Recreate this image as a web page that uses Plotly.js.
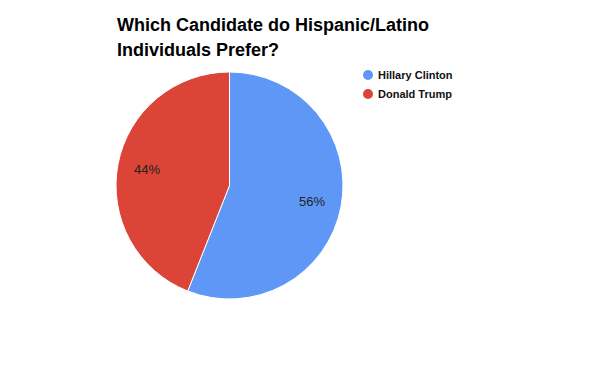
<!DOCTYPE html>
<html><head><meta charset="utf-8">
<script src="https://cdn.plot.ly/plotly-3.0.1.min.js"></script>
<style>html,body{margin:0;padding:0;background:#fff}#c{width:600px;height:371px}</style>
</head><body><div id="c"></div>
<script>
const labels = ["Hillary Clinton", "Donald Trump"];
const values = [56, 44];
const colors = ["#5e97f6", "#db4437"];
const titleLines = ["Which Candidate do Hispanic/Latino", "Individuals Prefer?"];

const W = 600, H = 371;
const FONT = "Liberation Sans, Arial, sans-serif";
const legendX = 368, legendY0 = 75, legendStep = 19;
const pie = {x0: 116, x1: 343, y0: 72, y1: 299};
const titleX = 116, titleY0 = 25, titleStep = 25;

const cx = (pie.x0 + pie.x1) / 2, cy = (pie.y0 + pie.y1) / 2, R = (pie.x1 - pie.x0) / 2;
const total = values.reduce((a, b) => a + b, 0);
let cum = 0;
const pctAnn = values.map(v => {
  const mid = (cum + v / 2) / total * 2 * Math.PI;
  cum += v;
  const r = 0.74 * R;
  return {
    text: Math.round(v / total * 100) + "%", xref: "paper", yref: "paper",
    x: (cx + r * Math.sin(mid)) / W, y: 1 - (cy - r * Math.cos(mid)) / H,
    xanchor: "center", yanchor: "middle", showarrow: false,
    font: {family: FONT, size: 13, color: "#222"}
  };
});

const shapes = labels.map((l, i) => ({
  type: "circle", xref: "paper", yref: "paper",
  x0: (legendX - 5) / W, x1: (legendX + 5) / W,
  y0: 1 - (legendY0 + i * legendStep + 5) / H, y1: 1 - (legendY0 + i * legendStep - 5) / H,
  fillcolor: colors[i], line: {width: 0}
}));
const legAnn = labels.map((l, i) => ({
  text: "<b>" + l + "</b>", xref: "paper", yref: "paper",
  x: (legendX + 8) / W, y: 1 - (legendY0 + i * legendStep) / H,
  xanchor: "left", yanchor: "middle", showarrow: false,
  font: {family: FONT, size: 11, color: "#111"}
}));
const titleAnn = titleLines.map((t, i) => ({
  text: "<b>" + t + "</b>", xref: "paper", yref: "paper",
  x: (titleX - 1) / W, y: 1 - (titleY0 + i * titleStep) / H,
  xanchor: "left", yanchor: "middle", align: "left",
  showarrow: false, font: {family: FONT, size: 18, color: "#000"}
}));

Plotly.newPlot("c", [{
  type: "pie", labels: labels, values: values,
  marker: {colors: colors, line: {color: "#fff", width: 1}},
  sort: false, direction: "clockwise", rotation: 0,
  textinfo: "none",
  domain: {x: [pie.x0 / W, pie.x1 / W], y: [1 - pie.y1 / H, 1 - pie.y0 / H]},
  showlegend: false, hoverinfo: "label+percent"
}], {
  width: W, height: H,
  margin: {l: 0, r: 0, t: 0, b: 0},
  paper_bgcolor: "#fff",
  shapes: shapes, annotations: titleAnn.concat(legAnn, pctAnn)
}, {displayModeBar: false, staticPlot: true});
</script></body></html>
